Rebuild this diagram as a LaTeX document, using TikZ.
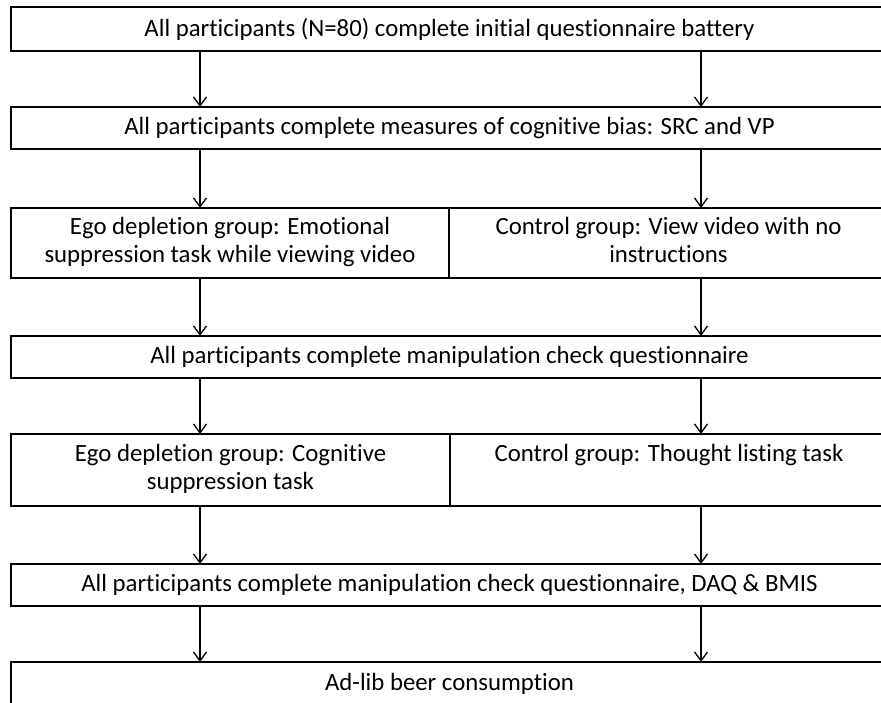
\documentclass[tikz,border=0pt]{standalone}
\usepackage{fontspec}
\setmainfont{Carlito}[RawFeature=-liga]
\usetikzlibrary{arrows.meta}
\begin{document}
\begin{tikzpicture}[x=1pt,y=-1pt,
  stagebox/.style={draw, line width=1.3pt, rectangle, inner sep=0pt, outer sep=0pt,
    align=center, font=\fontsize{24.8}{28}\selectfont},
  flow/.style={draw, line width=1.3pt,
    -{Straight Barb[length=9pt,width=13pt,line width=1.3pt]}}]
  \useasboundingbox (0,0) rectangle (881,703);
  \clip (0,0) rectangle (881,703);
  \fill[white] (0,0) rectangle (881,703);

  % full-width stages
  \node[stagebox, minimum width=877pt, minimum height=44pt] (b1) at (449.5,29)
    {All participants (N=80) complete initial questionnaire battery};
  \node[stagebox, minimum width=877pt, minimum height=42pt] (b2) at (449.5,128)
    {All participants complete measures of cognitive bias: SRC and VP};

  % first split stage
  \node[stagebox, minimum width=438pt, minimum height=70pt] (b3l) at (230,243)
    {\strut Ego depletion group: Emotional\\\strut suppression task while viewing video};
  \node[stagebox, minimum width=439pt, minimum height=70pt] (b3r) at (668.5,243)
    {\strut Control group: View video with no\\\strut instructions};

  \node[stagebox, minimum width=877pt, minimum height=42pt] (b4) at (449.5,357)
    {All participants complete manipulation check questionnaire};

  % second split stage
  \node[stagebox, minimum width=439pt, minimum height=72pt] (b5l) at (230.5,470)
    {\strut Ego depletion group: Cognitive\\\strut suppression task};
  \node[stagebox, minimum width=438pt, minimum height=72pt] (b5r) at (669,470)
    {\strut Control group: Thought listing task\\\strut};

  \node[stagebox, minimum width=877pt, minimum height=42pt] (b6) at (449.5,585)
    {All participants complete manipulation check questionnaire, DAQ \& BMIS};
  \node[stagebox, minimum width=877pt, minimum height=56pt, text height=12pt, text depth=12pt]
    (b7) at (449.5,690) {Ad-lib beer consumption};

  % the two columns of arrows
  \coordinate (lx) at (200,0);
  \coordinate (rx) at (701,0);

  \draw[flow] (b1.south -| lx) -- (b2.north -| lx);
  \draw[flow] (b1.south -| rx) -- (b2.north -| rx);
  \draw[flow] (b2.south -| lx) -- (b3l.north -| lx);
  \draw[flow] (b2.south -| rx) -- (b3r.north -| rx);
  \draw[flow] (b3l.south -| lx) -- (b4.north -| lx);
  \draw[flow] (b3r.south -| rx) -- (b4.north -| rx);
  \draw[flow] (b4.south -| lx) -- (b5l.north -| lx);
  \draw[flow] (b4.south -| rx) -- (b5r.north -| rx);
  \draw[flow] (b5l.south -| lx) -- (b6.north -| lx);
  \draw[flow] (b5r.south -| rx) -- (b6.north -| rx);
  \draw[flow] (b6.south -| lx) -- (b7.north -| lx);
  \draw[flow] (b6.south -| rx) -- (b7.north -| rx);
\end{tikzpicture}
\end{document}
